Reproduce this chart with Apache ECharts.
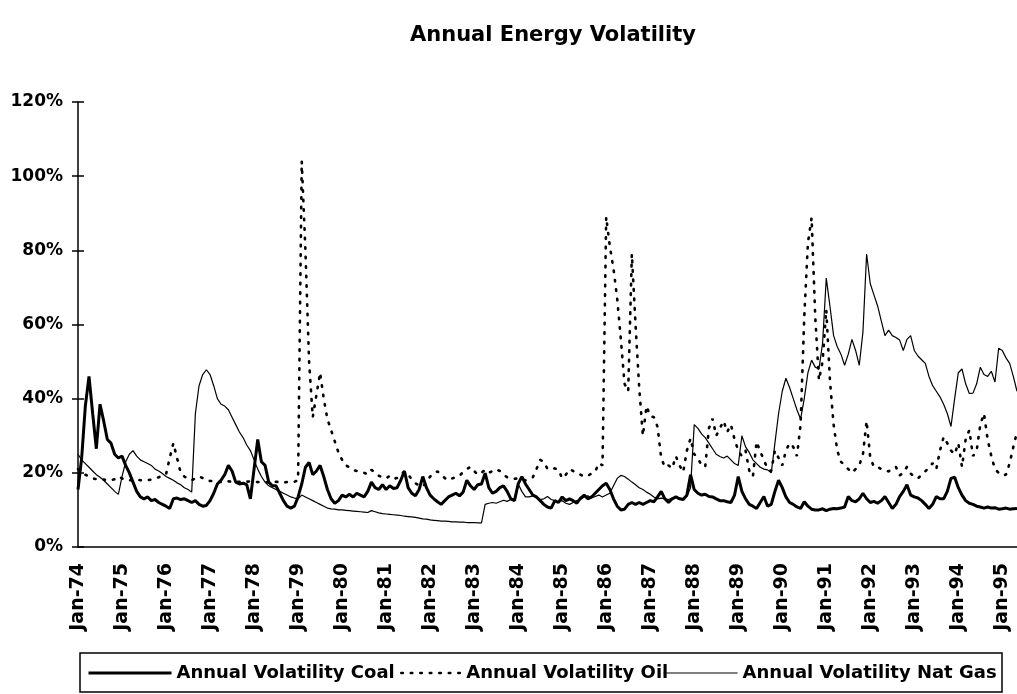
<!DOCTYPE html>
<html><head><meta charset="utf-8">
<script src="https://cdn.jsdelivr.net/npm/echarts/dist/echarts.min.js"></script>
<style>html,body{margin:0;padding:0;background:#fff}#c{width:1017px;height:694px}</style>
</head><body><div id="c"></div>
<script>
const monthNames = ['Jan','Feb','Mar','Apr','May','Jun','Jul','Aug','Sep','Oct','Nov','Dec'];
const startYear = 1974;
const monthCount = 257; // Jan-74 .. May-95
const categories = [];
for (let i = 0; i < monthCount; i++) {
  const y = startYear + Math.floor(i / 12);
  categories.push(monthNames[i % 12] + '-' + String(y).slice(2));
}
const yTicks = [0, 20, 40, 60, 80, 100, 120];

const coal = [
  15.5, 24, 38, 46, 36, 26.5, 38.5, 34, 29, 28, 25, 24,
  24.5, 22, 20, 17.5, 15, 13.5, 13, 13.5, 12.5, 12.8, 12, 11.5,
  11, 10.4, 13, 13.2, 12.8, 13, 12.5, 12, 12.5, 11.5, 11, 11.2,
  12.5, 14.5, 17, 18, 19.5, 22, 20.5, 17.5, 17, 17.2, 16.8, 13,
  21, 29, 23, 22, 17.5, 16.5, 16.5, 14.5, 12.5, 11, 10.5, 11,
  13.5, 17, 21.5, 22.8, 19.5, 20.5, 22, 19, 15.5, 13, 11.8, 12.5,
  14, 13.5, 14.2, 13.5, 14.5, 14, 13.5, 15, 17.5, 16, 15.5, 16.8,
  15.5, 16.5, 15.8, 16, 18, 20.5, 16, 14.5, 13.8, 15.5, 19, 16,
  14, 13, 12.2, 11.5, 12.5, 13.5, 14, 14.5, 13.8, 14.8, 18, 16.5,
  15.5, 16.8, 17, 19.9, 16, 14.5, 15, 16, 16.5, 15, 13, 12.5,
  17, 19, 17, 15.5, 14, 13.5, 12.5, 11.5, 10.8, 10.5, 12.5, 12,
  13.5, 12.5, 13, 12.5, 11.8, 13.2, 14, 13, 13.5, 14.5, 15.5, 16.5,
  17.2, 15.5, 13, 11, 10, 10.2, 11.5, 12, 11.5, 12, 11.5, 12,
  12.5, 12.2, 13.5, 15, 13, 12, 13, 13.5, 13, 12.8, 14, 19.5,
  15.5, 14.5, 14, 14.2, 13.6, 13.5, 13, 12.5, 12.5, 12.2, 12, 14,
  19, 15, 13, 11.5, 11, 10.4, 12, 13.6, 11, 11.5, 15, 18,
  16, 13.5, 12, 11.5, 10.8, 10.4, 12.2, 11, 10.2, 10, 10, 10.3,
  9.8, 10.2, 10.4, 10.3, 10.5, 10.8, 13.6, 12.5, 12.2, 13, 14.5, 13,
  12, 12.3, 11.8, 12.5, 13.6, 12, 10.4, 11.5, 13.6, 15, 16.8, 14,
  13.5, 13.2, 12.5, 11.5, 10.4, 11.5, 13.6, 13, 13, 15, 18.5, 18.8,
  16, 14, 12.5, 11.8, 11.5, 11, 10.8, 10.5, 10.8, 10.5, 10.6, 10.2,
  10.3, 10.5, 10.2, 10.3, 10.4
];

const oil = [
  21, 20, 19.5, 19, 18.5, 18.3, 18.2, 18.2, 18, 18, 18.3, 19,
  18.5, 18, 18, 18, 18.2, 18, 18, 18, 18.2, 18.5, 18.8, 19.2,
  19.6, 24, 28, 24, 20, 19, 18.4, 18, 18.5, 19, 18.6, 18,
  17.8, 17.8, 17.6, 17.5, 17.6, 17.7, 17.6, 17.5, 17.6, 17.5, 17.6, 17.7,
  17.6, 17.5, 17.6, 17.5, 17.4, 17.5, 17.6, 17.5, 17.4, 17.5, 17.5, 17.6,
  18, 104, 80, 50, 35, 41, 47, 40, 34.5, 31.5, 28.5, 25.5,
  23.5, 22, 21.5, 20.8, 20.5, 20.3, 20, 19.6, 20.8, 20, 19.2, 18.8,
  18.5, 19.2, 18.4, 18.6, 19.5, 20.4, 19.6, 18.2, 17.2, 16.6, 16.3, 17.5,
  19, 20, 20.4, 19.5, 18.6, 18, 18.5, 18.8, 19.2, 20.2, 21, 21.6,
  20.5, 19.5, 20, 20.8, 20, 20.5, 21, 20.5, 19.5, 18.8, 18.6, 18.4,
  18.5, 18.2, 18, 18.3, 18.8, 21, 23.5, 23, 21, 21, 21.2, 20.8,
  18.5, 19.5, 21, 20.5, 20, 19.5, 19, 19.2, 19.8, 20.3, 22.6, 22,
  89, 81, 75, 67, 56, 44, 42, 79, 60, 43, 30, 38,
  35.3, 35, 32.4, 24, 21.5, 22, 21.2, 24.5, 22, 20.2, 26, 29.3,
  25, 24, 22, 21.6, 32, 34.6, 30, 32, 34, 31, 33, 29,
  26, 24.5, 26, 20.6, 19, 28.4, 25.7, 23.5, 21, 20.5, 26, 24,
  22, 26, 28, 27, 24.5, 33, 62, 82, 88.8, 62, 45, 50,
  64, 45, 33, 26, 23, 22, 21, 20, 21, 22, 25, 34,
  24, 21.6, 21.6, 21, 20.5, 20.4, 21, 21.6, 19.3, 20, 21.6, 19.8,
  19, 18.5, 19.5, 20.4, 21.5, 22.6, 21, 26, 29.7, 28, 26, 25,
  28, 21.6, 29, 31.5, 24.5, 26, 33, 36, 29, 24.5, 21, 20,
  19.3, 19.5, 22.6, 27, 31
];

const gas = [
  25, 23.5, 22.5, 21.5, 20.5, 19.5, 18.8, 18, 17, 16, 15, 14.2,
  19, 23, 25, 26, 24.5, 23.5, 23, 22.5, 22, 21, 20.5, 19.8,
  19, 18.5, 18, 17.3, 16.8, 16, 15.5, 14.8, 36, 43.5, 46.5, 47.8,
  46.5, 43.5, 40, 38.5, 38, 37, 35, 33, 31, 29.5, 27.5, 26,
  23.5, 21, 19, 17.5, 16.5, 16, 15.5, 15, 14.5, 14, 13.5, 13.2,
  13, 14, 13.5, 13, 12.5, 12, 11.5, 11, 10.5, 10.3, 10.2, 10,
  10, 9.9, 9.8, 9.7, 9.6, 9.5, 9.4, 9.3, 9.8, 9.5, 9.2, 9,
  8.9, 8.8, 8.7, 8.6, 8.5, 8.3, 8.2, 8.1, 8, 7.8, 7.6, 7.5,
  7.3, 7.2, 7.1, 7, 7, 6.9, 6.8, 6.8, 6.7, 6.7, 6.6, 6.6,
  6.6, 6.5, 6.5, 11.5, 11.8, 12, 11.8, 12.2, 12.6, 12.3, 12.8, 13,
  17, 15, 13.5, 13.5, 13.8, 13.2, 12.8, 13, 13.6, 12.8, 12.5, 12.2,
  12.5, 11.8, 11.5, 12, 12.5, 12.8, 13.5, 13.8, 13.2, 13.6, 14, 13.5,
  14, 14.5, 16.5, 18.5, 19.3, 19, 18.3, 17.5, 16.8, 16, 15.5, 14.8,
  14.2, 13.5, 13, 13.2, 13, 12.8, 13.2, 13.5, 13.2, 13, 13.6, 16,
  33, 32, 30.5, 29.5, 28, 26.5, 25, 24.4, 24, 24.5, 23.5, 22.5,
  22, 30, 27, 25.5, 23.5, 22.5, 21.5, 21, 20.8, 20, 28, 36,
  42, 45.5, 43, 40, 37, 34.5, 40, 47, 50.4, 48.5, 48, 55,
  72.5, 65, 57, 54, 52, 49, 52, 56, 53, 49, 58, 79,
  71, 68, 65, 61, 57, 58.5, 57, 56.5, 55.8, 53, 56, 57,
  53, 51.5, 50.5, 49.5, 46, 43.5, 42, 40.5, 38.5, 36, 32.5, 40,
  47, 48, 44, 41.4, 41.5, 44, 48.5, 46.5, 46, 47.4, 44.5, 53.6,
  53, 51, 49.5, 46, 42
];

const FONT = 'DejaVu Sans';
const legendText = { fontFamily: FONT, fontWeight: 'bold', fontSize: 18, color: '#000' };
const hiddenSymbol = { opacity: 0, color: 'rgba(0,0,0,0)', borderWidth: 0 };
const chart = echarts.init(document.getElementById('c'));
chart.setOption({
  animation: false,
  backgroundColor: '#fff',
  title: {
    text: 'Annual Energy Volatility',
    left: 548, top: 20, textAlign: 'center',
    textStyle: { fontFamily: FONT, fontWeight: 'bold', fontSize: 21, color: '#000' }
  },
  grid: { left: 78, right: 0, top: 102, bottom: 147, containLabel: false },
  legend: [
    { data: ['Annual Volatility Coal'], left: 87, top: 664, padding: 0, itemWidth: 83, itemHeight: 14,
      itemStyle: hiddenSymbol, lineStyle: { width: 3, color: '#000' }, textStyle: legendText },
    { data: ['Annual Volatility Oil'], left: 400, top: 664, padding: 0, itemWidth: 60, itemHeight: 14,
      itemStyle: hiddenSymbol, lineStyle: { width: 2.6, color: '#000' }, textStyle: legendText },
    { data: ['Annual Volatility Nat Gas'], left: 663, top: 664, padding: 0, itemWidth: 74, itemHeight: 14,
      itemStyle: hiddenSymbol, lineStyle: { width: 1.2, color: '#000' }, textStyle: legendText }
  ],
  graphic: [{
    type: 'rect', silent: true,
    shape: { x: 80, y: 653, width: 922, height: 39 },
    style: { fill: 'none', stroke: '#000', lineWidth: 1.5 }
  }],
  xAxis: {
    type: 'category', data: categories, boundaryGap: false,
    axisLine: { lineStyle: { color: '#000', width: 1.5 } },
    axisTick: { show: false },
    splitLine: { show: false },
    axisLabel: {
      interval: function (i) { return i % 12 === 0; },
      rotate: 90, margin: 16, color: '#000',
      fontFamily: FONT, fontWeight: 'bold', fontSize: 19
    }
  },
  yAxis: [{
    type: 'value', min: yTicks[0], max: yTicks[yTicks.length - 1], interval: 20,
    axisLine: { show: true, lineStyle: { color: '#000', width: 1.5 } },
    axisTick: { show: true, length: 6, lineStyle: { color: '#000', width: 1.5 } },
    splitLine: { show: false },
    axisLabel: { formatter: '{value}%', margin: 15, color: '#000',
      fontFamily: FONT, fontWeight: 'bold', fontSize: 17 }
  }, {
    type: 'value', position: 'left', min: yTicks[0], max: yTicks[yTicks.length - 1], interval: 20,
    axisLine: { show: false },
    axisTick: { show: true, inside: true, length: 6, lineStyle: { color: '#000', width: 1.5 } },
    splitLine: { show: false },
    axisLabel: { show: false }
  }],
  series: [
    { name: 'Annual Volatility Coal', type: 'line', data: coal, symbol: 'none', z: 4,
      itemStyle: { color: '#000' }, lineStyle: { color: '#000', width: 3 } },
    { name: 'Annual Volatility Oil', type: 'line', data: oil, symbol: 'none', z: 3,
      itemStyle: { color: '#000' }, lineStyle: { color: '#000', width: 2.6, type: [1.5, 8], cap: 'round' } },
    { name: 'Annual Volatility Nat Gas', type: 'line', data: gas, symbol: 'none', z: 2,
      itemStyle: { color: '#000' }, lineStyle: { color: '#000', width: 1.2 } }
  ]
});
</script>
</body></html>
